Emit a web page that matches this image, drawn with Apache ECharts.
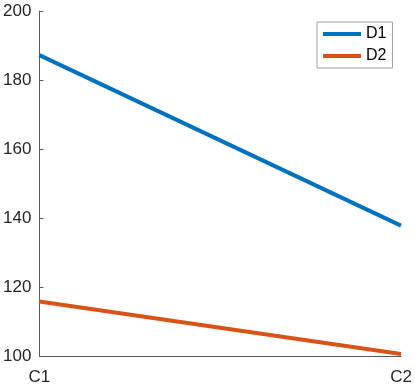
<!DOCTYPE html>
<html>
<head>
<meta charset="utf-8">
<script src="https://cdn.jsdelivr.net/npm/echarts@6/dist/echarts.min.js"></script>
<style>html,body{margin:0;padding:0;background:#fff}#c{width:415px;height:390px}</style>
</head>
<body>
<div id="c"></div>
<script>
var categories = ['C1', 'C2'];
var seriesNames = ['D1', 'D2'];
var d1 = [187.2, 137.8];
var d2 = [115.8, 100.6];
var yTicks = [100, 120, 140, 160, 180, 200];

var chart = echarts.init(document.getElementById('c'), null, {renderer: 'canvas'});
var font = 'Liberation Sans, Arial, Helvetica, sans-serif';
chart.setOption({
  animation: false,
  backgroundColor: '#ffffff',
  grid: {left: 37, right: 14, top: 11, bottom: 34, containLabel: false},
  legend: {
    orient: 'vertical', left: 317, top: 22,
    data: seriesNames,
    icon: 'rect', itemWidth: 38, itemHeight: 4, itemGap: 4,
    padding: [3, 6, 3, 6],
    borderColor: '#a0a0a0', borderWidth: 1, backgroundColor: '#fff',
    textStyle: {fontFamily: font, fontSize: 16, color: '#000', lineHeight: 18, padding: [0, 0, 0, 0]}
  },
  xAxis: {
    type: 'category', data: categories, boundaryGap: false,
    axisLine: {lineStyle: {color: '#5a5a5a', width: 1}},
    axisTick: {show: false},
    axisLabel: {fontFamily: font, fontSize: 17, color: '#262626', margin: 13},
    splitLine: {show: false}
  },
  yAxis: {
    type: 'value', min: 100, max: 200, interval: 20,
    axisLine: {show: true, lineStyle: {color: '#5a5a5a', width: 1}},
    axisTick: {show: true, inside: true, length: 4, lineStyle: {color: '#5a5a5a'}},
    axisLabel: {fontFamily: font, fontSize: 17, color: '#262626', margin: 8,
      formatter: function (v) { return yTicks.indexOf(v) >= 0 ? String(v) : ''; }},
    splitLine: {show: false}
  },
  series: [
    {name: seriesNames[0], type: 'line', data: d1, showSymbol: false, symbol: 'none',
     lineStyle: {width: 4, color: '#0072BD'}, itemStyle: {color: '#0072BD'}},
    {name: seriesNames[1], type: 'line', data: d2, showSymbol: false, symbol: 'none',
     lineStyle: {width: 4, color: '#D95319'}, itemStyle: {color: '#D95319'}}
  ]
});
</script>
</body>
</html>
